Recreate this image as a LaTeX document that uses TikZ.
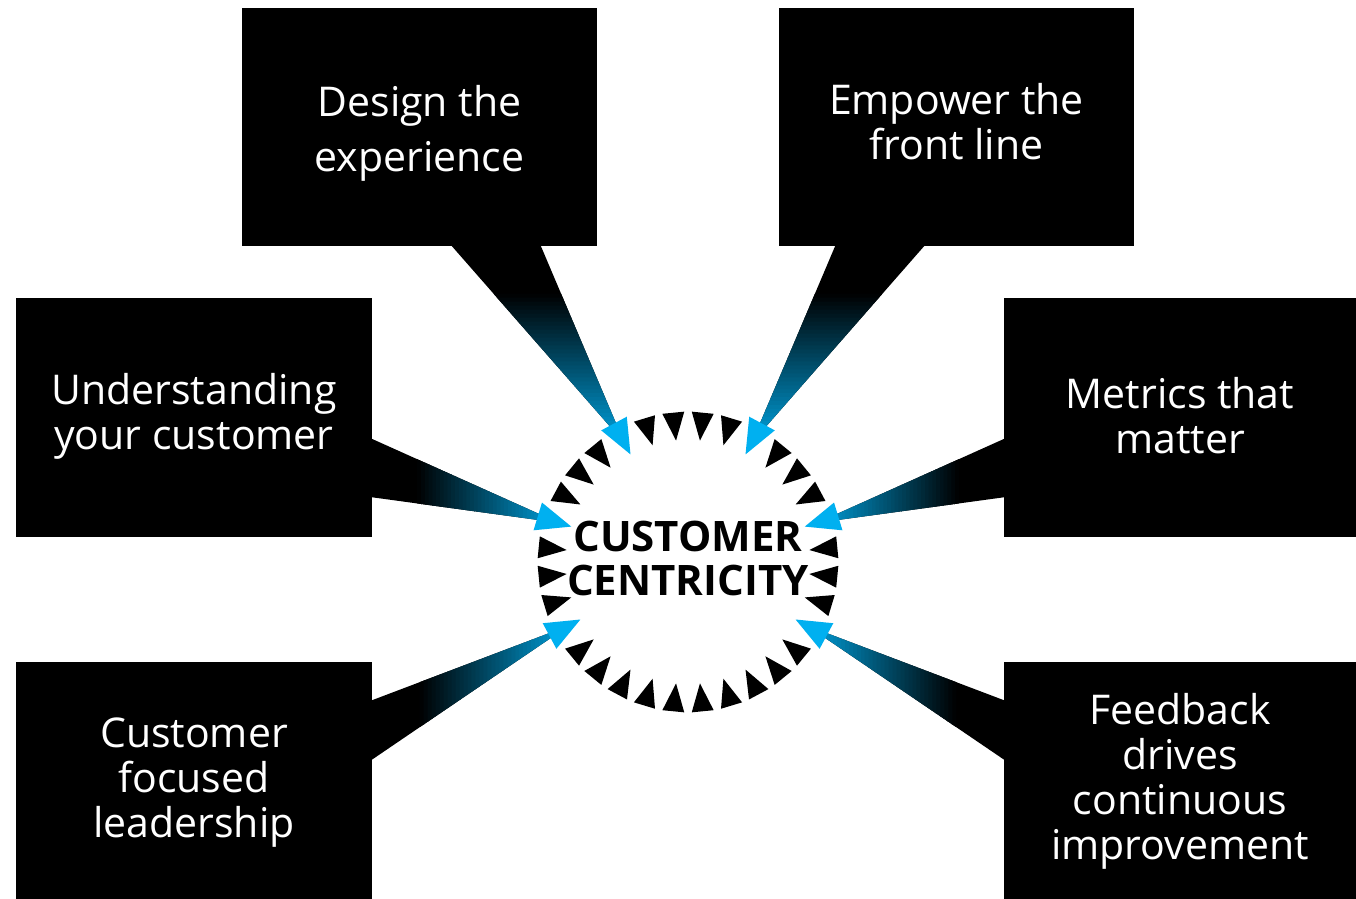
\documentclass[tikz,border=0pt]{standalone}
\usepackage{fontspec}
\setmainfont{Open Sans}
\usetikzlibrary{calc}

\definecolor{pointercyan}{HTML}{00B0F0}
\definecolor{tipteal}{RGB}{0,160,220}

\tikzset{
  panel/.style={fill=black, draw=none, inner sep=0pt},
  paneltext/.style={text=white, align=center, inner sep=0pt,
    font=\fontsize{41}{45}\selectfont},
  hubtext/.style={text=black, align=center, inner sep=0pt,
    font=\fontsize{42}{44}\selectfont\bfseries},
  ringmark/.style={fill=black},
  pointer/.style={fill=pointercyan},
}

% tapering callout from a panel edge (#1,#2) to the wedge tip #3,
% black near the panel and fading into teal towards the tip
\newcommand\drawcallout[3]{%
  \fill[black] (#1) -- (#2) -- (#3) -- cycle;
  \foreach \i in {0,...,37}{%
    \pgfmathsetmacro\ta{0.25+0.02*\i}%
    \pgfmathsetmacro\tb{\ta+0.025}%
    \pgfmathsetmacro\pc{(\ta+0.01-0.25)/0.75*100}%
    \fill[tipteal!\pc!black] ($(#1)!\ta!(#3)$) -- ($(#1)!\tb!(#3)$)
      -- ($(#2)!\tb!(#3)$) -- ($(#2)!\ta!(#3)$) -- cycle;
  }%
}

% cyan arrowhead on the ring at angle #1, pointing to the hub
\newcommand\drawpointer[1]{%
  \fill[pointer] ($(C)+(#1:122)$) -- ($(C)+(#1:157)+(#1+90:14.5)$)
    -- ($(C)+(#1:157)+(#1-90:14.5)$) -- cycle;
}

\begin{document}
\begin{tikzpicture}[x=1pt, y=1pt]
\useasboundingbox (0,0) rectangle (1356,898);
\fill[white] (0,0) rectangle (1356,898);

% hub centre
\coordinate (C) at (688,336);

% panels
\node[panel, minimum width=355pt, minimum height=238pt] (design)     at (419.5,771) {};
\node[panel, minimum width=355pt, minimum height=238pt] (empower)    at (956.5,771) {};
\node[panel, minimum width=356pt, minimum height=239pt] (understand) at (194,480.5) {};
\node[panel, minimum width=356pt, minimum height=239pt] (metrics)    at (1182,480.5) {};
\node[panel, minimum width=356pt, minimum height=240pt] (leader)     at (194,116) {};
\node[panel, minimum width=356pt, minimum height=240pt] (feedback)   at (1182,116) {};

% callout bases on the panel edges
\coordinate (design-a)     at (450,654);
\coordinate (design-b)     at (540,654);
\coordinate (empower-a)    at (836,654);
\coordinate (empower-b)    at (926,654);
\coordinate (understand-a) at (370,460);
\coordinate (understand-b) at (370,401);
\coordinate (metrics-a)    at (1006,460);
\coordinate (metrics-b)    at (1006,401);
\coordinate (leader-a)     at (370,197);
\coordinate (leader-b)     at (370,137);
\coordinate (feedback-a)   at (1006,197);
\coordinate (feedback-b)   at (1006,137);

% callout tips on the ring
\coordinate (design-tip)     at ($(C)+(118.125:135)$);
\coordinate (empower-tip)    at ($(C)+(61.875:135)$);
\coordinate (understand-tip) at ($(C)+(163.125:135)$);
\coordinate (metrics-tip)    at ($(C)+(16.875:135)$);
\coordinate (leader-tip)     at ($(C)+(208.125:135)$);
\coordinate (feedback-tip)   at ($(C)+(331.875:135)$);

\drawcallout{design-a}{design-b}{design-tip}
\drawcallout{empower-a}{empower-b}{empower-tip}
\drawcallout{understand-a}{understand-b}{understand-tip}
\drawcallout{metrics-a}{metrics-b}{metrics-tip}
\drawcallout{leader-a}{leader-b}{leader-tip}
\drawcallout{feedback-a}{feedback-b}{feedback-tip}

% ring of inward-pointing triangles (32 slots, six taken by the callouts)
\foreach \k in {0,2,3,4,6,7,8,9,11,12,13,15,16,17,19,20,21,22,23,24,25,26,27,28,30,31}{
  \pgfmathsetmacro\ang{5.625+11.25*\k}
  \fill[ringmark] ($(C)+(\ang:122)$) -- ($(C)+(\ang:150)+(\ang+90:11)$)
    -- ($(C)+(\ang:150)+(\ang-90:11)$) -- cycle;
}

\drawpointer{118.125}
\drawpointer{61.875}
\drawpointer{163.125}
\drawpointer{16.875}
\drawpointer{208.125}
\drawpointer{331.875}

% texts
\node[paneltext] (design-t)     at (419.5,765) {Design the\\[10pt]experience};
\node[paneltext] (empower-t)    at (956.5,776) {Empower the\\front line};
\node[paneltext] (understand-t) at (194,482)   {Understanding\\your customer};
\node[paneltext] (metrics-t)    at (1180,482)  {Metrics that\\matter};
\node[paneltext] (leader-t)     at (194,115)   {Customer\\focused\\leadership};
\node[paneltext] (feedback-t)   at (1180,116.5) {Feedback\\drives\\continuous\\improvement};
\node[hubtext]   (hub)          at (688,340)   {CUSTOMER\\CENTRICITY};
\end{tikzpicture}
\end{document}
